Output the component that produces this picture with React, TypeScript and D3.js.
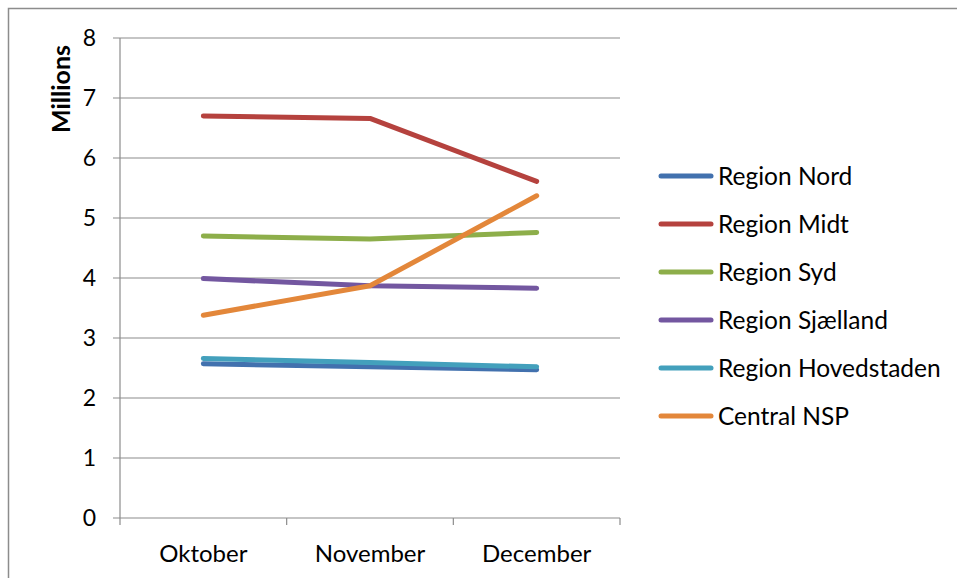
import { useEffect, useRef } from 'react';
import * as d3 from 'd3';

const months = ['Oktober', 'November', 'December'];
const seriesNames = [
  'Region Nord',
  'Region Midt',
  'Region Syd',
  'Region Sjælland',
  'Region Hovedstaden',
  'Central NSP',
];
const nord = [2.57, 2.52, 2.47];
const midt = [6.7, 6.66, 5.61];
const syd = [4.7, 4.65, 4.76];
const sjaelland = [3.99, 3.87, 3.83];
const hovedstaden = [2.66, 2.59, 2.52];
const centralNsp = [3.38, 3.87, 5.37];
const seriesColors = ['#4271AE', '#B5423E', '#8DAE4A', '#7357A0', '#43A0BC', '#E3873A'];
const yTicks = [0, 1, 2, 3, 4, 5, 6, 7, 8];

const W = 957;
const H = 578;
const FONT = 'Lato, "Open Sans", sans-serif';

export default function App() {
  const ref = useRef<SVGSVGElement>(null);

  useEffect(() => {
    document.body.style.margin = '0';
    const svg = d3.select(ref.current);
    svg.selectAll('*').remove();

    const left = 120;
    const right = 620;
    const top = 38;
    const bottom = 518;

    const x = d3.scalePoint<string>().domain(months).range([left, right]).padding(0.5);
    const y = d3.scaleLinear().domain([0, 8]).range([bottom, top]);

    svg.append('rect').attr('width', W).attr('height', H).attr('fill', '#fff');
    // outer chart border (runs off right/bottom of the frame)
    svg
      .append('rect')
      .attr('x', 8.5)
      .attr('y', 8.5)
      .attr('width', W + 20)
      .attr('height', H + 20)
      .attr('fill', 'none')
      .attr('stroke', '#8c8c8c')
      .attr('stroke-width', 1.5);

    // gridlines
    svg
      .append('g')
      .selectAll('line')
      .data(yTicks)
      .enter()
      .append('line')
      .attr('x1', left - 7)
      .attr('x2', right)
      .attr('y1', (d) => y(d))
      .attr('y2', (d) => y(d))
      .attr('stroke', '#8c8c8c')
      .attr('stroke-width', 1.2);

    // y axis line
    svg
      .append('line')
      .attr('x1', left)
      .attr('x2', left)
      .attr('y1', top)
      .attr('y2', bottom)
      .attr('stroke', '#8c8c8c')
      .attr('stroke-width', 1.2);

    // x tick marks at band edges
    const step = x.step();
    const edges = d3.range(months.length + 1).map((i) => left + i * step);
    svg
      .append('g')
      .selectAll('line')
      .data(edges)
      .enter()
      .append('line')
      .attr('x1', (d) => d)
      .attr('x2', (d) => d)
      .attr('y1', bottom)
      .attr('y2', bottom + 7)
      .attr('stroke', '#8c8c8c')
      .attr('stroke-width', 1.2);

    // y tick labels
    svg
      .append('g')
      .selectAll('text')
      .data(yTicks)
      .enter()
      .append('text')
      .attr('x', 96)
      .attr('y', (d) => y(d))
      .attr('dy', '0.36em')
      .attr('text-anchor', 'end')
      .attr('font-family', FONT)
      .attr('font-size', 23)
      .attr('fill', '#000')
      .text((d) => d);

    // x labels
    svg
      .append('g')
      .selectAll('text')
      .data(months)
      .enter()
      .append('text')
      .attr('x', (d) => x(d) ?? 0)
      .attr('y', 562)
      .attr('text-anchor', 'middle')
      .attr('font-family', FONT)
      .attr('font-size', 24)
      .attr('fill', '#000')
      .text((d) => d);

    // axis title
    svg
      .append('text')
      .attr('transform', 'translate(70,89) rotate(-90)')
      .attr('text-anchor', 'middle')
      .attr('font-family', FONT)
      .attr('font-size', 25)
      .attr('font-weight', 'bold')
      .attr('fill', '#000')
      .text('Millions');

    const allSeries = [nord, midt, syd, sjaelland, hovedstaden, centralNsp];
    const line = d3
      .line<number>()
      .x((_d, i) => x(months[i]) ?? 0)
      .y((d) => y(d));

    svg
      .append('g')
      .selectAll('path')
      .data(allSeries)
      .enter()
      .append('path')
      .attr('d', (d) => line(d) ?? '')
      .attr('fill', 'none')
      .attr('stroke', (_d, i) => seriesColors[i])
      .attr('stroke-width', 5)
      .attr('stroke-linecap', 'round')
      .attr('stroke-linejoin', 'round');

    // legend
    const legend = svg
      .append('g')
      .selectAll('g')
      .data(seriesNames)
      .enter()
      .append('g')
      .attr('transform', (_d, i) => `translate(659,${176 + i * 48})`);
    legend
      .append('line')
      .attr('x1', 2)
      .attr('x2', 52)
      .attr('stroke', (_d, i) => seriesColors[i])
      .attr('stroke-width', 5)
      .attr('stroke-linecap', 'round');
    legend
      .append('text')
      .attr('x', 59)
      .attr('dy', '0.36em')
      .attr('font-family', FONT)
      .attr('font-size', 24.5)
      .attr('fill', '#000')
      .text((d) => d);
  }, []);

  return (
    <svg
      ref={ref}
      width={W}
      height={H}
      viewBox={`0 0 ${W} ${H}`}
      style={{ position: 'absolute', left: 0, top: 0, display: 'block' }}
    />
  );
}
